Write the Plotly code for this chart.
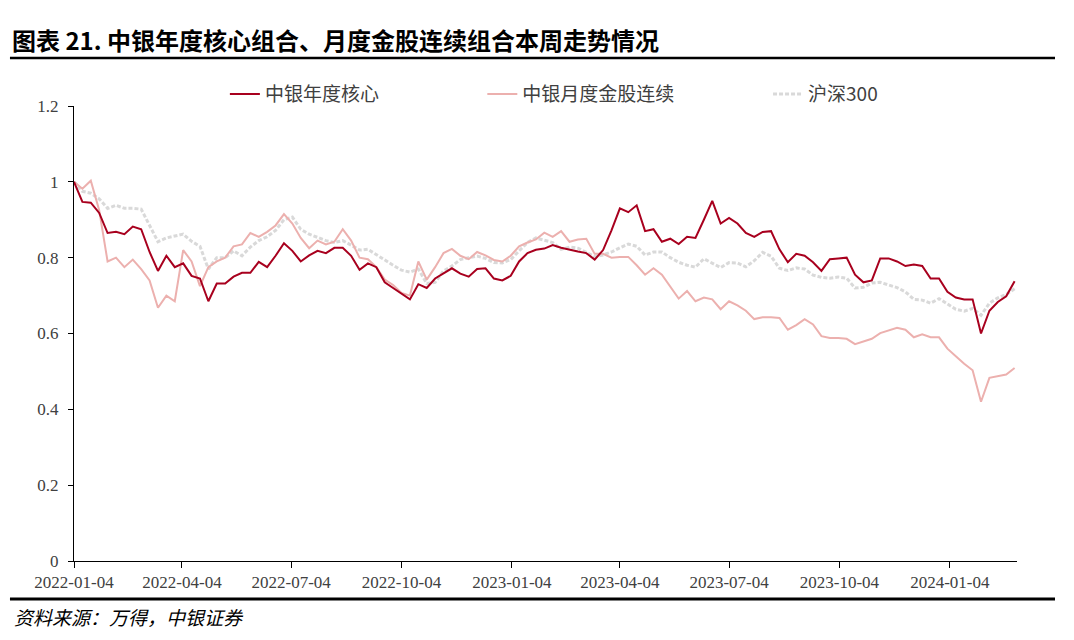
import pandas as pd
import plotly.graph_objects as go

# weekly samples, starting 2022-01-04
dates = pd.date_range("2022-01-04", periods=113, freq="7D")

core = [1.0, 0.947, 0.945, 0.918, 0.865, 0.868, 0.862, 0.882, 0.875, 0.815,
        0.765, 0.805, 0.775, 0.785, 0.752, 0.745, 0.685, 0.732, 0.732, 0.75,
        0.76, 0.76, 0.789, 0.775, 0.805, 0.838, 0.818, 0.79, 0.806, 0.818,
        0.812, 0.826, 0.826, 0.805, 0.768, 0.785, 0.775, 0.735, 0.72, 0.705,
        0.69, 0.73, 0.72, 0.745, 0.758, 0.772, 0.758, 0.75, 0.77, 0.772,
        0.745, 0.74, 0.752, 0.79, 0.812, 0.821, 0.824, 0.833, 0.826, 0.82,
        0.816, 0.812, 0.795, 0.82, 0.872, 0.93, 0.92, 0.938, 0.87, 0.875,
        0.842, 0.85, 0.836, 0.855, 0.852, 0.9, 0.95, 0.89, 0.905, 0.89,
        0.865, 0.855, 0.868, 0.87, 0.822, 0.788, 0.81, 0.805, 0.788, 0.765,
        0.796, 0.798, 0.8, 0.755, 0.735, 0.74, 0.798, 0.798, 0.79, 0.778,
        0.782, 0.778, 0.745, 0.745, 0.71, 0.695, 0.69, 0.69, 0.60, 0.66,
        0.683, 0.698, 0.738]

gold = [1.0, 0.982, 1.003, 0.925, 0.79, 0.8, 0.775, 0.795, 0.77, 0.74,
        0.668, 0.7, 0.685, 0.82, 0.79, 0.725, 0.775, 0.79, 0.8, 0.83,
        0.835, 0.865, 0.855, 0.868, 0.885, 0.915, 0.89, 0.852, 0.825, 0.845,
        0.835, 0.842, 0.875, 0.845, 0.8, 0.796, 0.775, 0.742, 0.728, 0.707,
        0.7, 0.79, 0.742, 0.775, 0.812, 0.823, 0.805, 0.796, 0.815, 0.806,
        0.794, 0.79, 0.805, 0.83, 0.84, 0.848, 0.866, 0.855, 0.87, 0.842,
        0.848, 0.85, 0.81, 0.81, 0.8, 0.802, 0.802, 0.78, 0.755, 0.772,
        0.755, 0.722, 0.692, 0.712, 0.685, 0.695, 0.69, 0.664, 0.685, 0.674,
        0.66, 0.638, 0.643, 0.643, 0.641, 0.61, 0.622, 0.638, 0.624, 0.593,
        0.588, 0.588, 0.586, 0.572, 0.578, 0.586, 0.601, 0.609, 0.615, 0.61,
        0.59, 0.598, 0.59, 0.59, 0.56, 0.54, 0.52, 0.503, 0.42, 0.483,
        0.487, 0.492, 0.509]

hs300 = [1.0, 0.975, 0.97, 0.955, 0.93, 0.938, 0.93, 0.93, 0.928, 0.885,
         0.842, 0.852, 0.858, 0.862, 0.843, 0.83, 0.77, 0.8, 0.8, 0.818,
         0.805, 0.828, 0.845, 0.855, 0.872, 0.9, 0.907, 0.875, 0.862, 0.853,
         0.845, 0.84, 0.845, 0.833, 0.82, 0.822, 0.808, 0.792, 0.78, 0.767,
         0.762, 0.77, 0.732, 0.735, 0.765, 0.778, 0.795, 0.8, 0.804, 0.798,
         0.787, 0.786, 0.795, 0.818, 0.84, 0.852, 0.846, 0.84, 0.822, 0.828,
         0.825, 0.815, 0.803, 0.807, 0.815, 0.826, 0.836, 0.83, 0.807, 0.815,
         0.815, 0.8, 0.788, 0.78, 0.775, 0.797, 0.786, 0.774, 0.787, 0.786,
         0.776, 0.792, 0.814, 0.804, 0.772, 0.766, 0.773, 0.77, 0.754, 0.748,
         0.746, 0.749, 0.746, 0.72, 0.722, 0.733, 0.735, 0.728, 0.721, 0.71,
         0.69, 0.688, 0.68, 0.692, 0.677, 0.664, 0.659, 0.666, 0.648, 0.68,
         0.694, 0.703, 0.718]

tick_dates = ["2022-01-04", "2022-04-04", "2022-07-04", "2022-10-04", "2023-01-04",
              "2023-04-04", "2023-07-04", "2023-10-04", "2024-01-04"]

serif = "Liberation Serif, Times New Roman, serif"
cjk = "Noto Sans CJK SC"

fig = go.Figure()
fig.add_trace(go.Scatter(x=dates, y=hs300, name="沪深300", mode="lines",
                         line=dict(color="#d9d9d9", width=3, dash="4px,2px"),
                         legend="legend3"))
fig.add_trace(go.Scatter(x=dates, y=gold, name="中银月度金股连续", mode="lines",
                         line=dict(color="#ecb0ae", width=2), legend="legend2"))
fig.add_trace(go.Scatter(x=dates, y=core, name="中银年度核心", mode="lines",
                         line=dict(color="#a8001e", width=2), legend="legend"))

leg = dict(orientation="h", yanchor="middle", y=1.026, xanchor="left",
           bgcolor="rgba(0,0,0,0)", font=dict(family=cjk, size=19, color="#404040"))
fig.update_layout(
    width=1074, height=640, autosize=False,
    margin=dict(l=74, r=57, t=106, b=79),
    plot_bgcolor="white", paper_bgcolor="white",
    showlegend=True,
    legend=dict(leg, x=0.16),
    legend2=dict(leg, x=0.433),
    legend3=dict(leg, x=0.736),
    title=dict(text="<b>图表 21. 中银年度核心组合、月度金股连续组合本周走势情况</b>",
               xref="container", yref="container", x=12 / 1074, y=1 - 42 / 640,
               xanchor="left", yanchor="middle",
               font=dict(family=cjk, size=24, color="black")),
)
fig.update_xaxes(type="date", range=["2022-01-04", "2024-02-29"],
                 tickvals=tick_dates, ticktext=tick_dates,
                 showgrid=False, zeroline=False, showline=True, linecolor="black", linewidth=1,
                 ticks="outside", ticklen=6, tickcolor="black",
                 tickfont=dict(family=serif, size=17, color="#404040"))
fig.update_yaxes(range=[0, 1.2], tickvals=[0, 0.2, 0.4, 0.6, 0.8, 1, 1.2],
                 ticktext=["0", "0.2", "0.4", "0.6", "0.8", "1", "1.2"],
                 showgrid=False, zeroline=False, showline=True, linecolor="black", linewidth=1,
                 ticks="outside", ticklen=5, tickcolor="black", ticklabelstandoff=6,
                 tickfont=dict(family=serif, size=17, color="#404040"))

fig.add_shape(type="line", xref="paper", yref="paper", x0=-0.0679, x1=1.0403,
              y0=1.1055, y1=1.1055, line=dict(color="black", width=2.5))
fig.add_shape(type="line", xref="paper", yref="paper", x0=-0.0679, x1=1.0403,
              y0=-0.0835, y1=-0.0835, line=dict(color="black", width=3))
fig.add_annotation(text="资料来源：万得，中银证券", xref="paper", yref="paper",
                   x=-0.0657, y=-0.1209, xanchor="left", yanchor="middle", showarrow=False,
                   font=dict(family=cjk, size=19, color="black", style="italic"))

fig.write_html("out.html", config={"displayModeBar": False},
               post_script="document.body.style.margin='0px';")
